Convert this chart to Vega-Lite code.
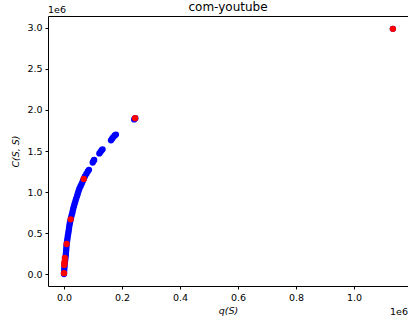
{
  "$schema": "https://vega.github.io/schema/vega-lite/v6.json",
  "width": 360,
  "height": 270,
  "autosize": "none",
  "padding": {"left": 48, "top": 16, "right": 0, "bottom": 41},
  "config": {
    "font": "DejaVu Sans",
    "view": {"stroke": "black", "strokeWidth": 1}
  },
  "title": {"text": "com-youtube", "fontSize": 12, "fontWeight": "normal", "font": "DejaVu Sans", "offset": -9, "color": "black"},
  "datasets": {
    "pts": [
      {"q": 0, "c": 0, "s": "b"},
      {"q": 300, "c": 20000, "s": "b"},
      {"q": 800, "c": 50000, "s": "b"},
      {"q": 1500, "c": 80000, "s": "b"},
      {"q": 2300, "c": 110000, "s": "b"},
      {"q": 3200, "c": 140000, "s": "b"},
      {"q": 4200, "c": 170000, "s": "b"},
      {"q": 5200, "c": 200000, "s": "b"},
      {"q": 6000, "c": 230000, "s": "b"},
      {"q": 6800, "c": 260000, "s": "b"},
      {"q": 7500, "c": 290000, "s": "b"},
      {"q": 8200, "c": 320000, "s": "b"},
      {"q": 8800, "c": 350000, "s": "b"},
      {"q": 9800, "c": 380000, "s": "b"},
      {"q": 11000, "c": 410000, "s": "b"},
      {"q": 12200, "c": 440000, "s": "b"},
      {"q": 13500, "c": 470000, "s": "b"},
      {"q": 15000, "c": 500000, "s": "b"},
      {"q": 16200, "c": 530000, "s": "b"},
      {"q": 17400, "c": 560000, "s": "b"},
      {"q": 18700, "c": 590000, "s": "b"},
      {"q": 20000, "c": 620000, "s": "b"},
      {"q": 22000, "c": 650000, "s": "b"},
      {"q": 24000, "c": 680000, "s": "b"},
      {"q": 26000, "c": 710000, "s": "b"},
      {"q": 28300, "c": 740000, "s": "b"},
      {"q": 30200, "c": 770000, "s": "b"},
      {"q": 32000, "c": 800000, "s": "b"},
      {"q": 34500, "c": 830000, "s": "b"},
      {"q": 37000, "c": 860000, "s": "b"},
      {"q": 39500, "c": 890000, "s": "b"},
      {"q": 42000, "c": 920000, "s": "b"},
      {"q": 45000, "c": 950000, "s": "b"},
      {"q": 47500, "c": 980000, "s": "b"},
      {"q": 50000, "c": 1010000, "s": "b"},
      {"q": 53000, "c": 1040000, "s": "b"},
      {"q": 57000, "c": 1070000, "s": "b"},
      {"q": 61000, "c": 1100000, "s": "b"},
      {"q": 64500, "c": 1130000, "s": "b"},
      {"q": 68000, "c": 1160000, "s": "b"},
      {"q": 72000, "c": 1190000, "s": "b"},
      {"q": 77000, "c": 1220000, "s": "b"},
      {"q": 82000, "c": 1250000, "s": "b"},
      {"q": 86000, "c": 1270000, "s": "b"},
      {"q": 99000, "c": 1360000, "s": "b"},
      {"q": 102000, "c": 1380000, "s": "b"},
      {"q": 104000, "c": 1390000, "s": "b"},
      {"q": 122000, "c": 1470000, "s": "b"},
      {"q": 126000, "c": 1490000, "s": "b"},
      {"q": 130000, "c": 1510000, "s": "b"},
      {"q": 133000, "c": 1520000, "s": "b"},
      {"q": 162000, "c": 1630000, "s": "b"},
      {"q": 166000, "c": 1650000, "s": "b"},
      {"q": 170000, "c": 1670000, "s": "b"},
      {"q": 175000, "c": 1690000, "s": "b"},
      {"q": 179000, "c": 1700000, "s": "b"},
      {"q": 242000, "c": 1885000, "s": "b"},
      {"q": 246000, "c": 1900000, "s": "b"},
      {"q": 1134000, "c": 2990000, "s": "b"},
      {"q": 0, "c": 10000, "s": "r"},
      {"q": 1000, "c": 110000, "s": "r"},
      {"q": 1500, "c": 130000, "s": "r"},
      {"q": 2000, "c": 150000, "s": "r"},
      {"q": 3000, "c": 195000, "s": "r"},
      {"q": 9000, "c": 366000, "s": "r"},
      {"q": 23000, "c": 667000, "s": "r"},
      {"q": 68000, "c": 1160000, "s": "r"},
      {"q": 245000, "c": 1900000, "s": "r"},
      {"q": 1134000, "c": 2990000, "s": "r"}
    ]
  },
  "layer": [
    {
      "data": {"name": "pts"},
      "mark": {"type": "circle", "size": 40, "opacity": 1},
      "encoding": {
        "x": {
          "field": "q", "type": "quantitative",
          "scale": {"domain": [-55172, 1186207], "nice": false, "zero": false},
          "axis": {
            "values": [0, 200000, 400000, 600000, 800000, 1000000],
            "labelExpr": "format(datum.value / 1000000, '.1f')",
            "grid": false, "domain": false,
            "tickColor": "black", "tickSize": 3, "labelColor": "black",
            "labelFontSize": 9.5, "labelPadding": 3,
            "title": "q(S)", "titleFontStyle": "italic", "titleFontWeight": "normal",
            "titleFontSize": 9.5, "titleColor": "black", "titlePadding": 4
          }
        },
        "y": {
          "field": "c", "type": "quantitative",
          "scale": {"domain": [-146341, 3146341], "nice": false, "zero": false},
          "axis": {
            "values": [0, 500000, 1000000, 1500000, 2000000, 2500000, 3000000],
            "labelExpr": "format(datum.value / 1000000, '.1f')",
            "grid": false, "domain": false,
            "tickColor": "black", "tickSize": 3, "labelColor": "black",
            "labelFontSize": 9.5, "labelPadding": 3,
            "title": "C(S, S)", "titleFontStyle": "italic", "titleFontWeight": "normal",
            "titleFontSize": 9.5, "titleColor": "black", "titlePadding": 6
          }
        },
        "color": {
          "field": "s", "type": "nominal",
          "scale": {"domain": ["b", "r"], "range": ["#0000ff", "#ff0000"]},
          "legend": null
        }
      }
    },
    {
      "data": {"values": [{"note": "1e6"}]},
      "mark": {"type": "text", "align": "left", "baseline": "middle", "fontSize": 9.5, "color": "black"},
      "encoding": {
        "x": {"datum": -55172, "type": "quantitative"},
        "y": {"datum": 3219512, "type": "quantitative"},
        "text": {"field": "note"}
      }
    },
    {
      "data": {"values": [{"note": "1e6"}]},
      "mark": {"type": "text", "align": "right", "baseline": "middle", "fontSize": 9.5, "color": "black"},
      "encoding": {
        "x": {"datum": 1186207, "type": "quantitative"},
        "y": {"datum": -463410, "type": "quantitative"},
        "text": {"field": "note"}
      }
    }
  ]
}
